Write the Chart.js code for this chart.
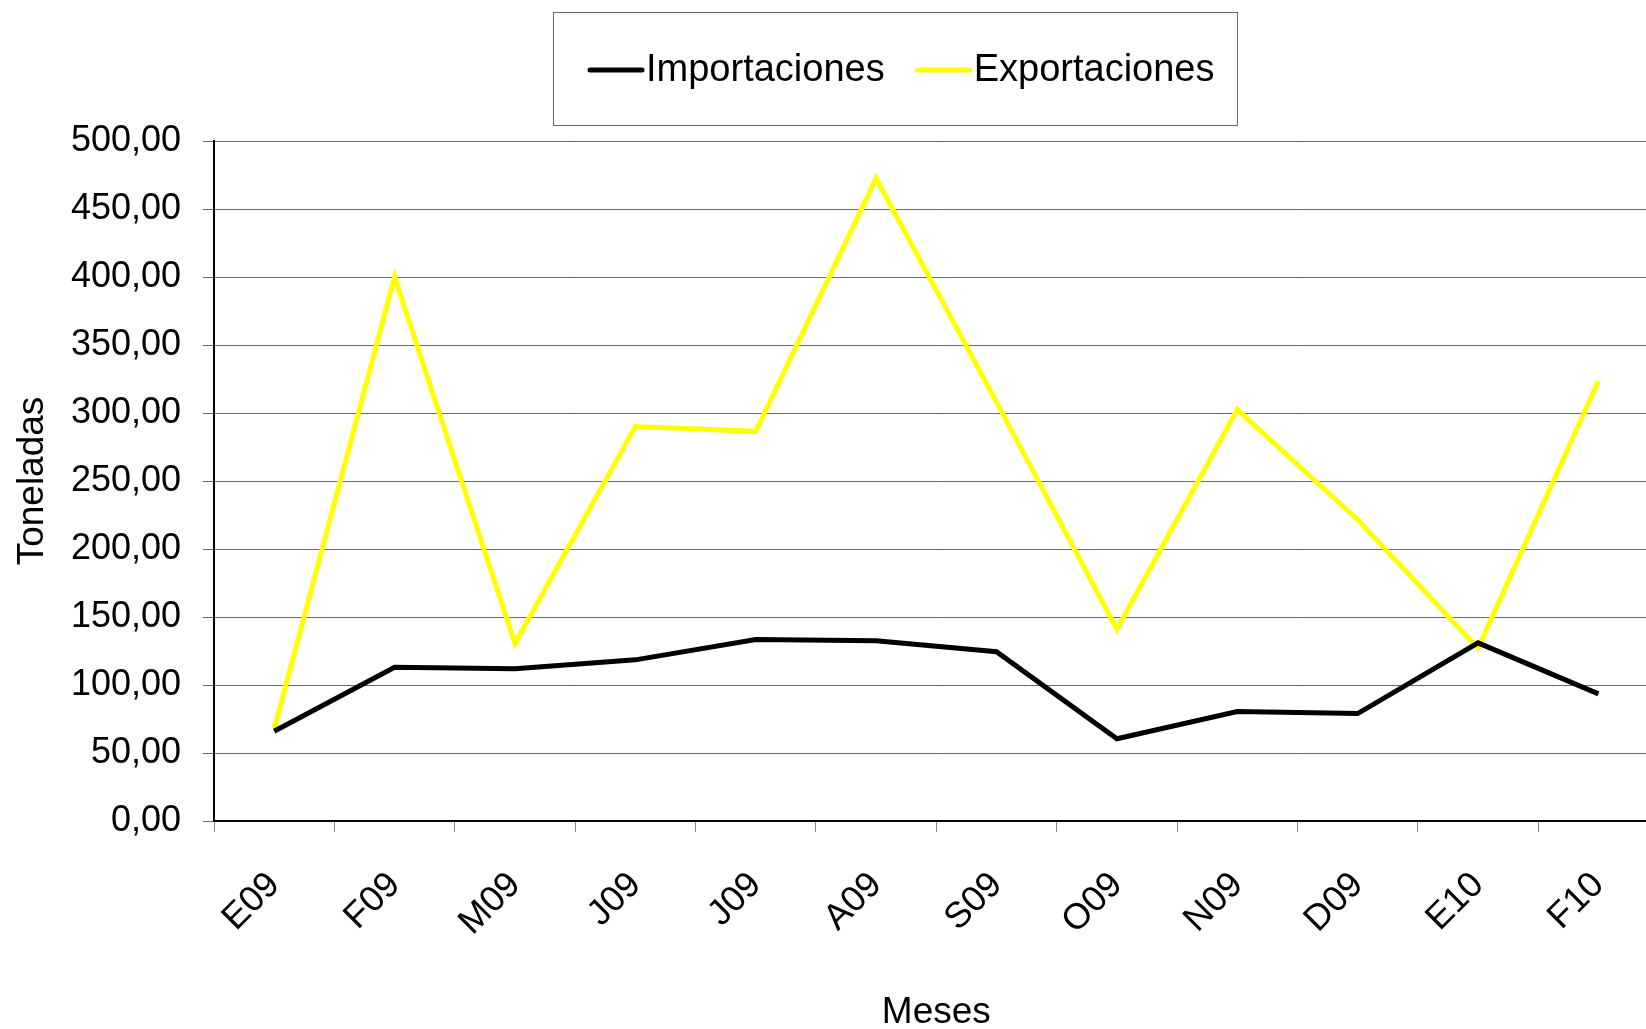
<!DOCTYPE html>
<html>
<head>
<meta charset="utf-8">
<script src="https://cdn.jsdelivr.net/npm/chart.js@4/dist/chart.umd.min.js"></script>
<style>
  html, body { margin: 0; padding: 0; background: #fff; overflow: hidden; }
  #wrap { width: 1661px; height: 1029px; }
</style>
</head>
<body>
<div id="wrap"><canvas id="chart" width="1661" height="1029"></canvas></div>
<script>
// Months (Enero 2009 .. Febrero 2010)
const months = ["E09", "F09", "M09", "J09", "J09", "A09", "S09", "O09", "N09", "D09", "E10", "F10"];

// Tonnes per month
const importaciones = [66, 113, 112, 118.5, 133.5, 132.5, 124.5, 60.5, 80.5, 79, 131, 93.5];
const exportaciones = [67.5, 400, 130.5, 290, 286.5, 472.5, 308, 141, 302.5, 221.5, 127, 323.5];

const seriesNames = ["Importaciones", "Exportaciones"];
const seriesColors = ["#000000", "#ffff00"];

const yTicks = [0, 50, 100, 150, 200, 250, 300, 350, 400, 450, 500];

const FONT = "'Liberation Sans', Arial, sans-serif";
Chart.defaults.font.family = FONT;
Chart.defaults.color = "#000";

// Boxed legend like the Excel original
const boxedLegend = {
  id: "boxedLegend",
  afterDraw(chart) {
    const ctx = chart.ctx;
    ctx.save();
    ctx.strokeStyle = "#666";
    ctx.lineWidth = 1;
    ctx.strokeRect(553.5, 12.5, 684, 113);

    ctx.font = "38px " + FONT;
    ctx.textBaseline = "middle";
    ctx.textAlign = "left";
    let x = 590;
    const y = 70;
    chart.data.datasets.forEach((ds, i) => {
      ctx.strokeStyle = ds.borderColor;
      ctx.lineWidth = 5;
      ctx.lineCap = "round";
      ctx.beginPath();
      ctx.moveTo(x, y);
      ctx.lineTo(x + 52, y);
      ctx.stroke();
      ctx.fillStyle = "#000";
      ctx.fillText(ds.label, x + 56, y + 1);
      x += 56 + ctx.measureText(ds.label).width + 33;
    });
    ctx.restore();
  }
};

new Chart(document.getElementById("chart"), {
  type: "line",
  data: {
    labels: months,
    datasets: [
      {
        label: seriesNames[0],
        data: importaciones,
        borderColor: seriesColors[0],
        backgroundColor: seriesColors[0],
        borderWidth: 5,
        pointRadius: 0,
        tension: 0
      },
      {
        label: seriesNames[1],
        data: exportaciones,
        borderColor: seriesColors[1],
        backgroundColor: seriesColors[1],
        borderWidth: 5,
        pointRadius: 0,
        tension: 0
      }
    ]
  },
  options: {
    responsive: false,
    animation: false,
    devicePixelRatio: 1,
    layout: { padding: { top: 141, left: 0, right: 0, bottom: 0 } },
    plugins: {
      legend: { display: false },
      tooltip: { enabled: false }
    },
    scales: {
      x: {
        offset: true,
        grid: {
          offset: true,
          drawOnChartArea: false,
          color: "#888",
          tickLength: 11
        },
        border: { color: "#000", width: 2 },
        ticks: {
          font: { size: 36 },
          color: "#000",
          maxRotation: 45,
          minRotation: 45,
          padding: 32,
          autoSkip: false
        },
        title: {
          display: true,
          text: "Meses",
          font: { size: 37 },
          color: "#000",
          padding: { top: 0, bottom: -6 }
        },
        afterFit(axis) { axis.height = 208; }
      },
      y: {
        min: 0,
        max: 500,
        afterBuildTicks(axis) { axis.ticks = yTicks.map(v => ({ value: v })); },
        grid: {
          color: "#6a6a6a",
          lineWidth: 1,
          tickLength: 11
        },
        border: { color: "#000", width: 2 },
        ticks: {
          font: { size: 36 },
          color: "#000",
          padding: 22,
          callback: v => v.toFixed(2).replace(".", ",")
        },
        title: {
          display: true,
          text: "Toneladas",
          font: { size: 37 },
          color: "#000",
          padding: { top: 11, bottom: 0 }
        },
        afterFit(axis) { axis.width = 214; }
      }
    }
  },
  plugins: [boxedLegend]
});
</script>
</body>
</html>
